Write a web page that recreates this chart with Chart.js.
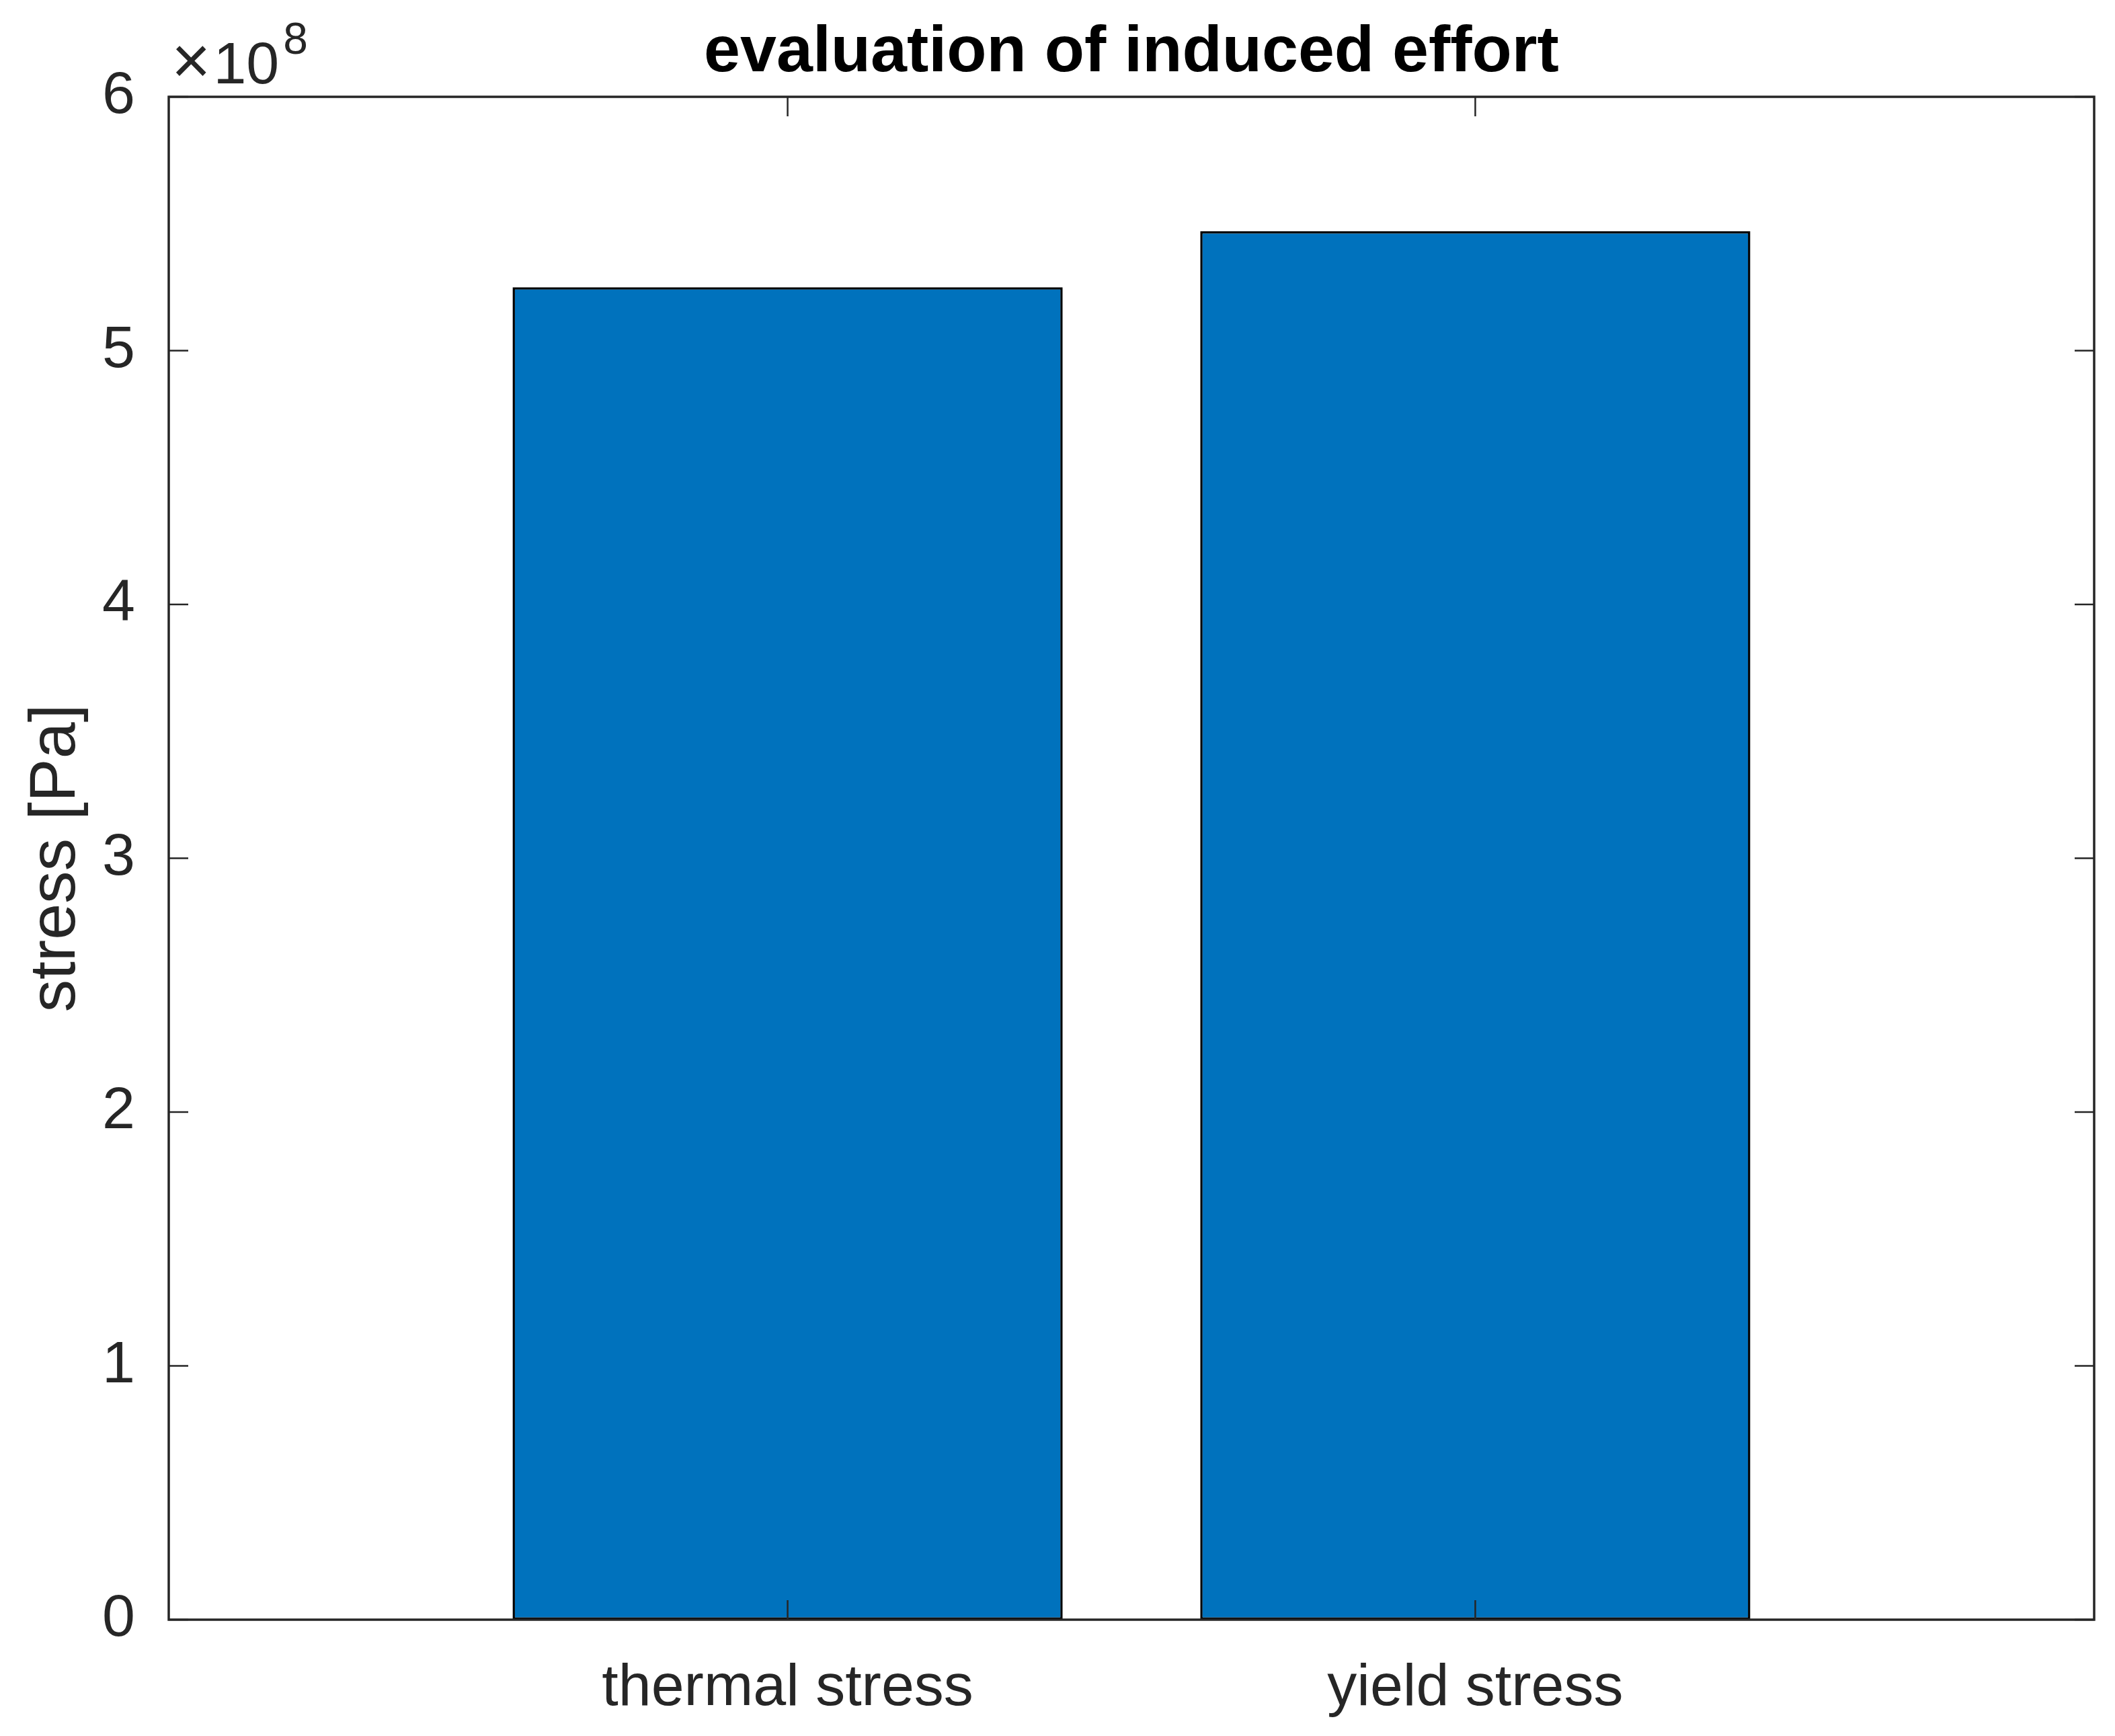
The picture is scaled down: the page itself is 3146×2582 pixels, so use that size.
<!DOCTYPE html>
<html>
<head>
<meta charset="utf-8">
<script src="https://cdn.jsdelivr.net/npm/chart.js@4"></script>
<style>
  html, body { margin: 0; padding: 0; background: #fff; }
  #wrap { width: 3146px; height: 2582px; }
</style>
</head>
<body>
<div id="wrap"><canvas id="stressChart" width="3146" height="2582"></canvas></div>
<script>
// data
const categories = ['thermal stress', 'yield stress'];
const xPositions = [1, 2];
const stressValues = [5.25e8, 5.47e8];
const yTicks = [0, 1e8, 2e8, 3e8, 4e8, 5e8, 6e8];
const chartTitle = 'evaluation of induced effort';

const axisColor = '#262626';
const fontFamily = '"Liberation Sans", Arial, Helvetica, sans-serif';

// matlab style box, inward ticks, title and the x10^8 exponent
const matlabAxes = {
    id: 'matlabAxes',
    afterDatasetsDraw(chart) {
        const { ctx, chartArea: a, scales: { x, y } } = chart;
        const len = 29;
        ctx.save();
        ctx.strokeStyle = axisColor;
        ctx.lineWidth = 2.5;
        ctx.beginPath();
        y.ticks.forEach(t => {
            const py = y.getPixelForValue(t.value);
            ctx.moveTo(a.left, py); ctx.lineTo(a.left + len, py);
            ctx.moveTo(a.right, py); ctx.lineTo(a.right - len, py);
        });
        x.ticks.forEach(t => {
            const px = x.getPixelForValue(t.value);
            ctx.moveTo(px, a.bottom); ctx.lineTo(px, a.bottom - len);
            ctx.moveTo(px, a.top); ctx.lineTo(px, a.top + len);
        });
        ctx.stroke();

        ctx.lineWidth = 3.5;
        ctx.strokeRect(a.left, a.top, a.right - a.left, a.bottom - a.top);

        // title centred over the axes
        ctx.fillStyle = '#000000';
        ctx.textAlign = 'center';
        ctx.textBaseline = 'alphabetic';
        ctx.font = 'bold 97px ' + fontFamily;
        ctx.fillText(chartTitle, (a.left + a.right) / 2, a.top - 38);

        // exponent
        ctx.fillStyle = axisColor;
        ctx.textAlign = 'left';
        ctx.font = '100px ' + fontFamily;
        const bx = a.left + 4;
        ctx.fillText('\u00d7', bx, a.top - 20);
        const wx = ctx.measureText('\u00d7').width;
        ctx.font = '88px ' + fontFamily;
        ctx.fillText('10', bx + wx + 4, a.top - 20);
        const w10 = ctx.measureText('10').width;
        ctx.font = '66px ' + fontFamily;
        ctx.fillText('8', bx + wx + 4 + w10 + 6, a.top - 64);
        ctx.restore();
    }
};

const ctx = document.getElementById('stressChart').getContext('2d');

new Chart(ctx, {
    type: 'bar',
    data: {
        datasets: [{
            data: xPositions.map((xv, i) => ({ x: xv, y: stressValues[i] })),
            backgroundColor: '#0072BD',
            borderColor: '#000000',
            borderWidth: 3.5,
            borderSkipped: false,
            barPercentage: 0.8,
            categoryPercentage: 1.0
        }]
    },
    options: {
        responsive: false,
        animation: false,
        devicePixelRatio: 1,
        layout: { padding: { left: 0, right: 31, top: 144, bottom: 0 } },
        plugins: {
            legend: { display: false },
            tooltip: { enabled: false },
            title: { display: false }
        },
        scales: {
            x: {
                type: 'linear',
                min: 0.1,
                max: 2.9,
                offset: false,
                grid: { display: false, offset: false },
                border: { display: false },
                afterBuildTicks: scale => {
                    scale.ticks = xPositions.map(v => ({ value: v }));
                },
                afterFit: scale => { scale.height = 173; },
                ticks: {
                    padding: 42,
                    color: axisColor,
                    maxRotation: 0,
                    font: { family: fontFamily, size: 88 },
                    callback: (v, i) => categories[i]
                }
            },
            y: {
                min: 0,
                max: 6e8,
                grid: { display: false },
                border: { display: false },
                afterBuildTicks: scale => {
                    scale.ticks = yTicks.map(v => ({ value: v }));
                },
                afterFit: scale => { scale.width = 251; },
                ticks: {
                    padding: 42,
                    color: axisColor,
                    font: { family: fontFamily, size: 88 },
                    callback: v => v / 1e8
                },
                title: {
                    display: true,
                    text: 'stress [Pa]',
                    color: axisColor,
                    font: { family: fontFamily, size: 97 },
                    padding: { top: 26, bottom: 0 }
                }
            }
        }
    },
    plugins: [matlabAxes]
});
</script>
</body>
</html>
